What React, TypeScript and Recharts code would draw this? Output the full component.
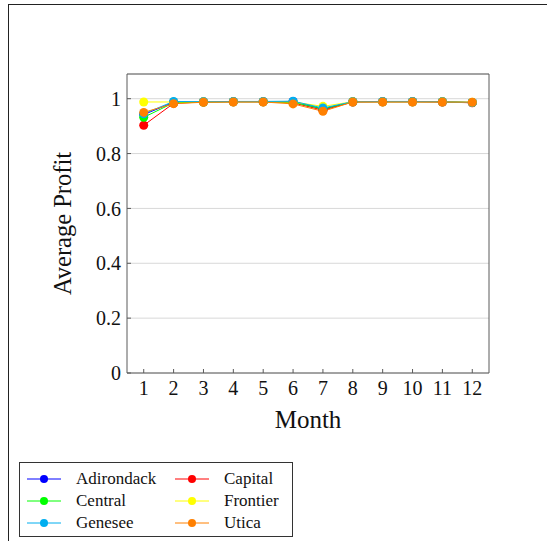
import {
  LineChart,
  Line,
  XAxis,
  YAxis,
  CartesianGrid,
} from "recharts"

const months = [1, 2, 3, 4, 5, 6, 7, 8, 9, 10, 11, 12]
const yTicks = [0, 0.2, 0.4, 0.6, 0.8, 1]

const adirondack = [0.942, 0.987, 0.989, 0.989, 0.989, 0.99, 0.962, 0.989, 0.989, 0.989, 0.989, 0.986]
const capital = [0.903, 0.983, 0.988, 0.989, 0.989, 0.985, 0.958, 0.988, 0.989, 0.989, 0.988, 0.985]
const central = [0.932, 0.985, 0.988, 0.989, 0.989, 0.987, 0.963, 0.989, 0.989, 0.989, 0.989, 0.986]
const frontier = [0.988, 0.988, 0.989, 0.989, 0.989, 0.988, 0.972, 0.989, 0.989, 0.989, 0.989, 0.987]
const genesee = [0.945, 0.99, 0.989, 0.99, 0.99, 0.991, 0.966, 0.989, 0.99, 0.99, 0.989, 0.986]
const utica = [0.95, 0.982, 0.987, 0.988, 0.988, 0.981, 0.954, 0.988, 0.988, 0.988, 0.988, 0.987]

// pgfplots draws in legend order (row-wise, 2 columns)
const series = [
  { key: "Adirondack", values: adirondack, color: "#0000ff" },
  { key: "Capital", values: capital, color: "#ff0000" },
  { key: "Central", values: central, color: "#00ff00" },
  { key: "Frontier", values: frontier, color: "#ffff00" },
  { key: "Genesee", values: genesee, color: "#00aeef" },
  { key: "Utica", values: utica, color: "#ff8000" },
]

const data = months.map((m, i) => {
  const row: Record<string, number> = { month: m }
  series.forEach((s) => {
    row[s.key] = s.values[i]
  })
  return row
})

const font = "'Liberation Serif', 'DejaVu Serif', serif"
const axisColor = "#5a5a5a"
const textColor = "#111"

// axis titles drawn by hand so the size is exactly what we ask for
function YTitle(props: any) {
  const { viewBox } = props
  const cx = viewBox.x - 5
  const cy = viewBox.y + viewBox.height / 2
  return (
    <text
      x={cx}
      y={cy}
      transform={`rotate(-90 ${cx} ${cy})`}
      textAnchor="middle"
      dominantBaseline="central"
      fontSize={24.5}
      fontFamily={font}
      fill={textColor}
    >
      Average Profit
    </text>
  )
}

function XTitle(props: any) {
  const { viewBox } = props
  const cx = viewBox.x + viewBox.width / 2
  return (
    <text
      x={cx}
      y={viewBox.y + 55}
      textAnchor="middle"
      fontSize={25}
      fontFamily={font}
      fill={textColor}
    >
      Month
    </text>
  )
}

export default function App() {
  return (
    <div
      style={{
        position: "absolute",
        left: 0,
        top: 0,
        width: 547,
        height: 541,
        overflow: "hidden",
        background: "white",
        fontFamily: font,
      }}
    >
      {/* outer frame, only top and left edges are inside the picture */}
      <div
        style={{
          position: "absolute",
          left: 8,
          top: 4,
          width: 700,
          height: 700,
          borderTop: "1.5px solid #222",
          borderLeft: "1.5px solid #222",
        }}
      />

      <div style={{ position: "absolute", left: 0, top: 0 }}>
        <LineChart
          width={547}
          height={541}
          data={data}
          margin={{ top: 73, right: 57, left: 67, bottom: 138 }}
        >
          <CartesianGrid
            horizontal
            vertical={false}
            stroke="#d8d8d8"
            strokeWidth={1}
          />

          <XAxis
            dataKey="month"
            type="number"
            domain={[0.44, 12.56]}
            ticks={months}
            interval={0}
            height={30}
            stroke={axisColor}
            tickSize={-4}
            tickMargin={12}
            tick={{ fontSize: 20, fill: textColor, fontFamily: font }}
            label={<XTitle />}
          />
          <XAxis
            xAxisId="top"
            orientation="top"
            dataKey="month"
            type="number"
            domain={[0.44, 12.56]}
            ticks={months}
            height={1}
            stroke={axisColor}
            tickLine={false}
            tick={() => null}
          />

          <YAxis
            type="number"
            domain={[0, 1.09]}
            ticks={yTicks}
            width={60}
            stroke={axisColor}
            tickSize={-4}
            tickMargin={10}
            tick={{ fontSize: 20, fill: textColor, fontFamily: font }}
            label={<YTitle />}
          />
          <YAxis
            yAxisId="right"
            orientation="right"
            type="number"
            domain={[0, 1.09]}
            ticks={yTicks}
            width={1}
            stroke={axisColor}
            tickSize={-4}
            tick={() => null}
          />

          {series.map((s) => (
            <Line
              key={s.key}
              dataKey={s.key}
              stroke={s.color}
              strokeWidth={1}
              type="linear"
              dot={{ r: 4.5, fill: s.color, stroke: "none" }}
              activeDot={false}
              isAnimationActive={false}
            />
          ))}
        </LineChart>
      </div>

      {/* legend */}
      <div
        style={{
          position: "absolute",
          left: 19,
          top: 462,
          width: 274,
          height: 75,
          border: "1px solid #333",
          boxSizing: "border-box",
          display: "grid",
          gridTemplateColumns: "148px 124px",
          gridAutoRows: 22,
          paddingTop: 5,
          fontSize: 17,
          color: textColor,
        }}
      >
        {series.map((s) => (
          <div
            key={s.key}
            style={{ display: "flex", alignItems: "center" }}
          >
            <svg width={50} height={22} style={{ marginLeft: 6, flexShrink: 0 }}>
              <line x1={1} y1={11} x2={35} y2={11} stroke={s.color} strokeWidth={1} />
              <circle cx={18} cy={11} r={4} fill={s.color} />
            </svg>
            <span style={{ whiteSpace: "nowrap" }}>{s.key}</span>
          </div>
        ))}
      </div>
    </div>
  )
}
